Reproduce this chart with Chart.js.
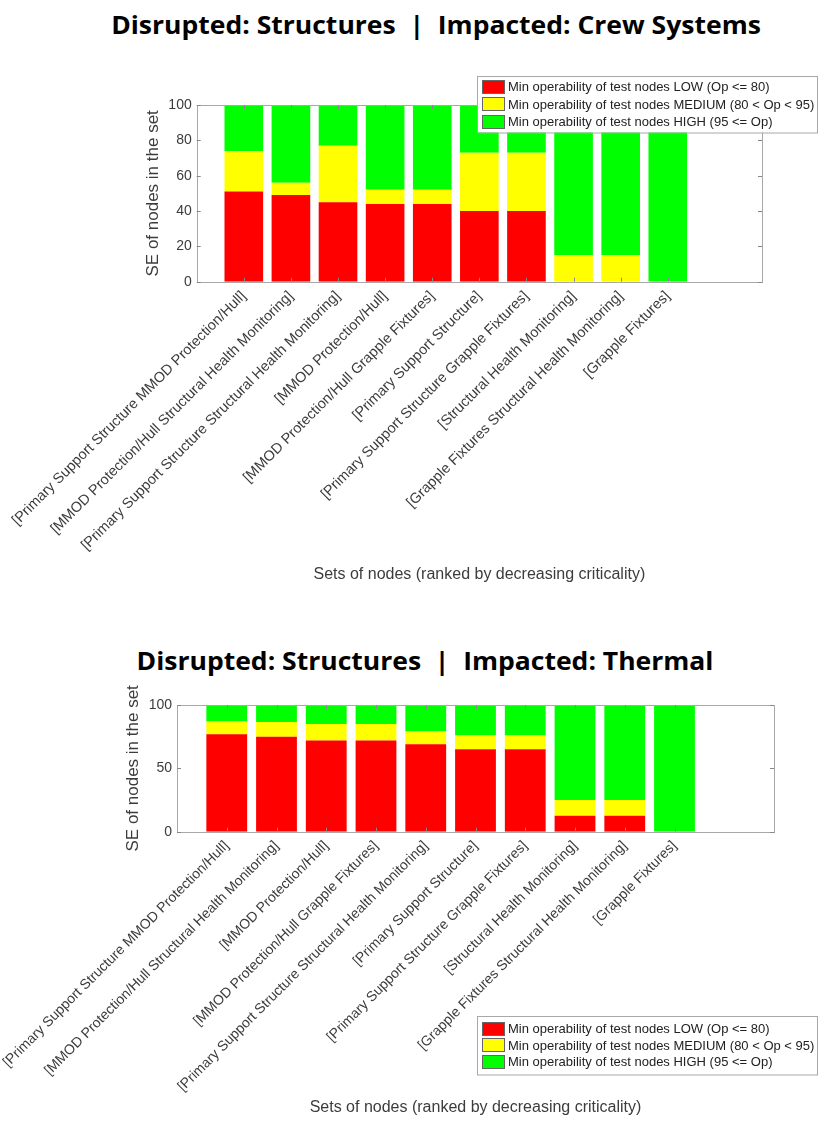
<!DOCTYPE html>
<html>
<head>
<meta charset="utf-8">
<script src="https://cdn.jsdelivr.net/npm/chart.js@4.4.0/dist/chart.umd.min.js"></script>
<style>
  html, body { margin: 0; padding: 0; background: #fff; }
  body { width: 831px; height: 1123px; position: relative; overflow: hidden; }
  .title { position: absolute; font-family: "Open Sans", "Noto Sans", sans-serif; font-weight: 700;
           font-size: 25px; color: #000; white-space: pre; line-height: 1; }
  .wrap { position: absolute; }
</style>
</head>
<body>
<div class="title" id="t1">Disrupted: Structures  |  Impacted: Crew Systems</div>
<div class="title" id="t2">Disrupted: Structures  |  Impacted: Thermal</div>
<div class="wrap" style="left:0px;top:60px;width:820px;height:540px;"><canvas id="c1" width="820" height="540"></canvas></div>
<div class="wrap" style="left:0px;top:680px;width:820px;height:443px;"><canvas id="c2" width="820" height="443"></canvas></div>
<script>
// ---------- DATA ----------
const seriesLabels = [
  'Min operability of test nodes LOW (Op <= 80)',
  'Min operability of test nodes MEDIUM (80 < Op < 95)',
  'Min operability of test nodes HIGH (95 <= Op)'
];
const seriesColors = ['#ff0000', '#ffff00', '#00ff00'];

const categories1 = [
  '[Primary Support Structure MMOD Protection/Hull]',
  '[MMOD Protection/Hull Structural Health Monitoring]',
  '[Primary Support Structure Structural Health Monitoring]',
  '[MMOD Protection/Hull]',
  '[MMOD Protection/Hull Grapple Fixtures]',
  '[Primary Support Structure]',
  '[Primary Support Structure Grapple Fixtures]',
  '[Structural Health Monitoring]',
  '[Grapple Fixtures Structural Health Monitoring]',
  '[Grapple Fixtures]'
];
const low1  = [51, 49, 45, 44, 44, 40, 40, 0, 0, 0];
const med1  = [23, 7, 32, 8, 8, 33, 33, 15, 15, 0];
const high1 = [26, 44, 23, 48, 48, 27, 27, 85, 85, 100];
const yTicks1 = [0, 20, 40, 60, 80, 100];

const categories2 = [
  '[Primary Support Structure MMOD Protection/Hull]',
  '[MMOD Protection/Hull Structural Health Monitoring]',
  '[MMOD Protection/Hull]',
  '[MMOD Protection/Hull Grapple Fixtures]',
  '[Primary Support Structure Structural Health Monitoring]',
  '[Primary Support Structure]',
  '[Primary Support Structure Grapple Fixtures]',
  '[Structural Health Monitoring]',
  '[Grapple Fixtures Structural Health Monitoring]',
  '[Grapple Fixtures]'
];
const low2  = [77, 75, 72, 72, 69, 65, 65, 12.5, 12.5, 0];
const med2  = [10, 11.5, 13, 13, 10, 11, 11, 12.5, 12.5, 0];
const high2 = [13, 13.5, 15, 15, 21, 24, 24, 75, 75, 100];
const yTicks2 = [0, 50, 100];

const yTitle = 'SE of nodes in the set';
const xTitle = 'Sets of nodes (ranked by decreasing criticality)';

// ---------- TITLES ----------
function placeTitle(id, cx, cy, k) {
  const el = document.getElementById(id);
  el.style.left = cx + 'px'; el.style.top = cy + 'px';
  el.style.transform = 'translate(-50%,-50%) scaleX(' + k + ')';
}
const t1 = document.getElementById('t1');
const k = 650 / t1.offsetWidth;
placeTitle('t1', 436, 24, k);
placeTitle('t2', 425, 660, k);

// ---------- PLUGINS ----------
const FONT = "'Liberation Sans', Arial, sans-serif";
const frame = {
  id: 'frame',
  afterDatasetsDraw(chart) {
    const {ctx, chartArea: a, scales} = chart;
    ctx.save();
    ctx.strokeStyle = '#a8a8a8'; ctx.lineWidth = 1;
    ctx.strokeRect(Math.round(a.left) + 0.5, Math.round(a.top) + 0.5,
                   Math.round(a.right - a.left), Math.round(a.bottom - a.top));
    ctx.strokeStyle = '#888';
    const tl = 4;
    scales.y.ticks.forEach(t => {
      const y = Math.round(scales.y.getPixelForValue(t.value)) + 0.5;
      ctx.beginPath();
      ctx.moveTo(a.left, y); ctx.lineTo(a.left + tl, y);
      ctx.moveTo(a.right, y); ctx.lineTo(a.right - tl, y);
      ctx.stroke();
    });
    scales.x.ticks.forEach((t, i) => {
      if (!chart.data.labels[i]) return;
      const x = Math.round(scales.x.getPixelForTick(i)) + 0.5;
      ctx.beginPath();
      ctx.moveTo(x, a.bottom); ctx.lineTo(x, a.bottom - tl);
      ctx.moveTo(x, a.top); ctx.lineTo(x, a.top + tl);
      ctx.stroke();
    });
    ctx.restore();
  }
};
const boxLegend = {
  id: 'boxLegend',
  afterDraw(chart, args, o) {
    const ctx = chart.ctx;
    const ds = chart.data.datasets;
    const h = ds.length * o.rowH + 2 * o.pad;
    ctx.save();
    ctx.fillStyle = '#fff';
    ctx.fillRect(o.x, o.y, o.w, h);
    ctx.strokeStyle = '#a8a8a8'; ctx.lineWidth = 1;
    ctx.strokeRect(o.x + 0.5, o.y + 0.5, o.w, h);
    ctx.font = o.size + 'px ' + FONT;
    ctx.textBaseline = 'middle';
    ds.forEach((d, i) => {
      const cy = o.y + o.pad + o.rowH * i + o.rowH / 2;
      ctx.fillStyle = d.backgroundColor;
      ctx.fillRect(o.x + 5, Math.round(cy - o.sh / 2), o.sw, o.sh);
      ctx.strokeStyle = '#666';
      ctx.strokeRect(o.x + 5.5, Math.round(cy - o.sh / 2) + 0.5, o.sw - 1, o.sh - 1);
      ctx.fillStyle = '#222';
      ctx.fillText(d.label, o.x + 5 + o.sw + 3, cy + 1);
    });
    ctx.restore();
  }
};

// ---------- CHART FACTORY ----------
function makeChart(id, cats, low, med, high, yTicks, L) {
  const labels = [''].concat(cats, ['', '']);
  const pad = arr => [null].concat(arr, [null, null]);
  const series = [low, med, high];
  return new Chart(document.getElementById(id), {
    type: 'bar',
    data: {
      labels,
      datasets: series.map((s, i) => ({
        label: seriesLabels[i],
        data: pad(s),
        backgroundColor: seriesColors[i],
        borderWidth: 0,
        categoryPercentage: 1,
        barPercentage: 0.82
      }))
    },
    plugins: [frame, boxLegend],
    options: {
      responsive: false,
      animation: false,
      events: [],
      layout: { padding: { left: L.left, right: L.right, top: L.top, bottom: L.bottom } },
      plugins: {
        legend: { display: false },
        tooltip: { enabled: false },
        boxLegend: L.legend
      },
      scales: {
        x: {
          type: 'category',
          stacked: true,
          offset: false,
          grid: { display: false, drawTicks: false },
          border: { display: false },
          ticks: {
            autoSkip: false, maxRotation: 45, minRotation: 45,
            padding: L.tickPad,
            color: '#3c3c3c',
            font: { family: FONT, size: L.xFont }
          },
          title: { display: true, text: xTitle, color: '#3c3c3c',
                   font: { family: FONT, size: 16 }, padding: { top: 4, bottom: 4 } },
          afterFit: s => { s.height = L.xH; }
        },
        y: {
          stacked: true,
          min: 0, max: 100,
          afterBuildTicks: s => { s.ticks = yTicks.map(v => ({ value: v })); },
          grid: { display: false, drawTicks: false },
          border: { display: false },
          ticks: { padding: 5, color: '#3c3c3c', font: { family: FONT, size: 14 } },
          title: { display: true, text: yTitle, color: '#3c3c3c',
                   font: { family: FONT, size: 17 }, padding: { top: 0, bottom: 0 } },
          afterFit: s => { s.width = L.yW; }
        }
      }
    }
  });
}

makeChart('c1', categories1, low1, med1, high1, yTicks1, {
  left: 143, yW: 53.7, right: 58, top: 45, bottom: 11.4, xH: 306.9, xFont: 14.5, tickPad: 6,
  legend: { x: 477, y: 16, w: 340, rowH: 17.5, pad: 2, size: 13, sw: 23, sh: 14 }
});
makeChart('c2', categories2, low2, med2, high2, yTicks2, {
  left: 123, yW: 54, right: 46, top: 25, bottom: 1.4, xH: 289.9, xFont: 14, tickPad: 6,
  legend: { x: 477, y: 336, w: 340, rowH: 16.5, pad: 4.5, size: 13, sw: 23, sh: 14 }
});
</script>
</body>
</html>
